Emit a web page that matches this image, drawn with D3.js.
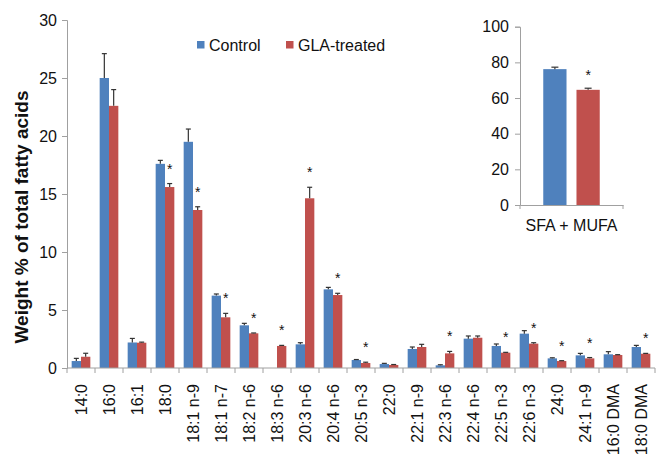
<!DOCTYPE html>
<html lang="en">
<head>
    <meta charset="UTF-8">
    <title>Fatty acids</title>
    <script src="https://d3js.org/d3.v7.min.js"></script>
    <style>
        body { margin: 0; background: #fff; }
        text { font-family: "Liberation Sans", Arial, sans-serif; fill: #111; }
    </style>
</head>
<body>
<div id="chart"></div>

<script>
    // fatty acid categories
    var categories = ["14:0", "16:0", "16:1", "18:0", "18:1 n-9", "18:1 n-7", "18:2 n-6", "18:3 n-6",
        "20:3 n-6", "20:4 n-6", "20:5 n-3", "22:0", "22:1 n-9", "22:3 n-6", "22:4 n-6", "22:5 n-3",
        "22:6 n-3", "24:0", "24:1 n-9", "16:0 DMA", "18:0 DMA"];
    var seriesNames = ["Control", "GLA-treated"];
    var controlValues = [0.6, 25.0, 2.2, 17.6, 19.5, 6.24, 3.68, 0, 2.04, 6.78, 0.69, 0.34, 1.64, 0.23, 2.53, 1.9, 2.96, 0.83, 1.09, 1.18, 1.81];
    var controlErrors = [0.23, 2.1, 0.35, 0.3, 1.1, 0.14, 0.17, 0, 0.14, 0.17, 0.04, 0.06, 0.17, 0.05, 0.23, 0.17, 0.26, 0.05, 0.17, 0.23, 0.14];
    var glaValues = [0.97, 22.6, 2.18, 15.6, 13.62, 4.37, 2.99, 1.9, 14.63, 6.29, 0.43, 0.26, 1.81, 1.26, 2.61, 1.32, 2.1, 0.6, 0.83, 1.12, 1.23];
    var glaErrors = [0.3, 1.4, 0.05, 0.3, 0.28, 0.34, 0.03, 0.05, 0.95, 0.15, 0.07, 0.04, 0.23, 0.17, 0.15, 0.03, 0.08, 0.03, 0.07, 0.03, 0.03];
    // categories marked with * (significant vs control)
    var significant = ["18:0", "18:1 n-9", "18:1 n-7", "18:2 n-6", "18:3 n-6", "20:3 n-6", "20:4 n-6", "20:5 n-3",
        "22:3 n-6", "22:5 n-3", "22:6 n-3", "24:0", "24:1 n-9", "18:0 DMA"];
    var yTicks = [0, 5, 10, 15, 20, 25, 30];

    // inset
    var insetCategory = ["SFA + MUFA"];
    var insetValues = [76.2, 64.6];
    var insetErrors = [1.1, 0.9];
    var insetTicks = [0, 20, 40, 60, 80, 100];

    var colors = ["#4f81bd", "#c0504d"];
    var axisColor = "#a0a0a0";

    var svg = d3.select("#chart")
        .append("svg")
            .attr("width", 659)
            .attr("height", 454);

    // ---- main chart ----
    var x = d3.scaleBand()
        .domain(categories)
        .range([67, 655]);
    var xInner = d3.scaleBand()
        .domain(seriesNames)
        .range([0, x.bandwidth()])
        .paddingOuter(0.5);
    var y = d3.scaleLinear()
        .domain([0, 30])
        .range([368, 20]);

    var rows = categories.map(function (c, i) {
        return [
            {cat: c, s: seriesNames[0], v: controlValues[i], e: controlErrors[i], k: 0},
            {cat: c, s: seriesNames[1], v: glaValues[i], e: glaErrors[i], k: 1}
        ];
    });

    var groups = svg.selectAll("g.cat")
        .data(rows)
        .enter()
        .append("g")
            .attr("class", "cat")
            .attr("transform", function (d, i) { return "translate(" + x(categories[i]) + ",0)"; });

    var bars = groups.selectAll("g.bar")
        .data(function (d) { return d.filter(function (b) { return b.v > 0; }); })
        .enter()
        .append("g");

    bars.append("rect")
        .attr("x", function (d) { return xInner(d.s); })
        .attr("y", function (d) { return y(d.v); })
        .attr("width", xInner.bandwidth())
        .attr("height", function (d) { return y(0) - y(d.v); })
        .style("fill", function (d) { return colors[d.k]; });

    drawErrors(bars, xInner, y, 2.5);

    // stars above GLA bars
    svg.selectAll("text.star")
        .data(significant)
        .enter()
        .append("text")
            .attr("class", "star")
            .attr("x", function (d) { return x(d) + xInner("GLA-treated") + xInner.bandwidth() / 2; })
            .attr("y", function (d) {
                var i = categories.indexOf(d);
                return y(glaValues[i] + glaErrors[i]) - 10;
            })
            .attr("text-anchor", "middle")
            .style("font-size", "14px")
            .text("*");

    // axes
    var yAxis = svg.append("g")
        .attr("transform", "translate(67,0)")
        .call(d3.axisLeft(y).tickValues(yTicks).tickSize(5).tickPadding(5));

    var xAxis = svg.append("g")
        .attr("transform", "translate(0,368)");
    xAxis.append("line")
        .attr("x1", 67).attr("x2", 655)
        .attr("y1", 0).attr("y2", 0);
    xAxis.selectAll("line.tick")
        .data(categories.concat(["end"]))
        .enter()
        .append("line")
            .attr("class", "tick")
            .attr("x1", function (d, i) { return i < categories.length ? x(d) : x.range()[1]; })
            .attr("x2", function (d, i) { return i < categories.length ? x(d) : x.range()[1]; })
            .attr("y1", 0).attr("y2", 5);
    xAxis.selectAll("text")
        .data(categories)
        .enter()
        .append("text")
            .attr("transform", function (d) {
                return "translate(" + (x(d) + x.bandwidth() / 2 + 6) + ",16) rotate(-90)";
            })
            .attr("text-anchor", "end")
            .style("font-size", "16px")
            .text(function (d) { return d; });

    styleAxis(yAxis);
    xAxis.selectAll("line").attr("stroke", axisColor);

    svg.append("text")
        .attr("transform", "translate(28,217) rotate(-90)")
        .attr("text-anchor", "middle")
        .style("font-size", "19px")
        .style("font-weight", "bold")
        .text("Weight % of total fatty acids");

    // legend
    var legend = svg.selectAll("g.legend")
        .data(seriesNames)
        .enter()
        .append("g")
            .attr("class", "legend")
            .attr("transform", function (d, i) { return "translate(" + [197, 286][i] + ",41)"; });
    legend.append("rect")
        .attr("width", 7.5).attr("height", 7.5)
        .style("fill", function (d, i) { return colors[i]; });
    legend.append("text")
        .attr("x", 12).attr("y", 10)
        .style("font-size", "16px")
        .text(function (d) { return d; });

    // ---- inset ----
    var ix = d3.scaleBand()
        .domain(insetCategory)
        .range([520, 623]);
    var ixInner = d3.scaleBand()
        .domain(seriesNames)
        .range([0, ix.bandwidth()])
        .paddingInner(0.3)
        .paddingOuter(0.7);
    var iy = d3.scaleLinear()
        .domain([0, 100])
        .range([205, 26.7]);

    var insetBars = svg.append("g")
        .attr("transform", "translate(" + ix(insetCategory[0]) + ",0)")
        .selectAll("g")
        .data(seriesNames.map(function (s, k) { return {s: s, v: insetValues[k], e: insetErrors[k], k: k}; }))
        .enter()
        .append("g");
    insetBars.append("rect")
        .attr("x", function (d) { return ixInner(d.s); })
        .attr("y", function (d) { return iy(d.v); })
        .attr("width", ixInner.bandwidth())
        .attr("height", function (d) { return iy(0) - iy(d.v); })
        .style("fill", function (d) { return colors[d.k]; });
    drawErrors(insetBars, ixInner, iy, 3.5);

    svg.append("text")
        .attr("x", ix(insetCategory[0]) + ixInner("GLA-treated") + ixInner.bandwidth() / 2)
        .attr("y", iy(insetValues[1] + insetErrors[1]) - 8)
        .attr("text-anchor", "middle")
        .style("font-size", "14px")
        .text("*");

    var iyAxis = svg.append("g")
        .attr("transform", "translate(520,0)")
        .call(d3.axisLeft(iy).tickValues(insetTicks).tickSize(5).tickPadding(6));
    styleAxis(iyAxis);

    var ixAxis = svg.append("g")
        .attr("transform", "translate(0,205)")
        .call(d3.axisBottom(ix).tickSize(0).tickPadding(15));
    // small ticks at both ends of the inset category axis
    ixAxis.selectAll("line.edge")
        .data(ix.range())
        .enter()
        .append("line")
            .attr("class", "edge")
            .attr("x1", function (d) { return d; })
            .attr("x2", function (d) { return d; })
            .attr("y1", 0).attr("y2", 4);
    styleAxis(ixAxis);
    ixAxis.selectAll("text").attr("dy", "0.71em");

    function drawErrors(sel, inner, yScale, cap) {
        sel.append("line")
            .attr("x1", function (d) { return inner(d.s) + inner.bandwidth() / 2; })
            .attr("x2", function (d) { return inner(d.s) + inner.bandwidth() / 2; })
            .attr("y1", function (d) { return yScale(d.v); })
            .attr("y2", function (d) { return yScale(d.v + d.e); })
            .attr("stroke", "#333")
            .attr("stroke-width", 1.2);
        sel.append("line")
            .attr("x1", function (d) { return inner(d.s) + inner.bandwidth() / 2 - cap; })
            .attr("x2", function (d) { return inner(d.s) + inner.bandwidth() / 2 + cap; })
            .attr("y1", function (d) { return yScale(d.v + d.e); })
            .attr("y2", function (d) { return yScale(d.v + d.e); })
            .attr("stroke", "#333")
            .attr("stroke-width", 1.2);
    }

    function styleAxis(g) {
        g.selectAll("path, line").attr("stroke", axisColor);
        g.selectAll("text")
            .style("font-size", "16px")
            .style("font-family", "'Liberation Sans', Arial, sans-serif")
            .attr("fill", "#111");
    }
</script>
</body>
</html>
